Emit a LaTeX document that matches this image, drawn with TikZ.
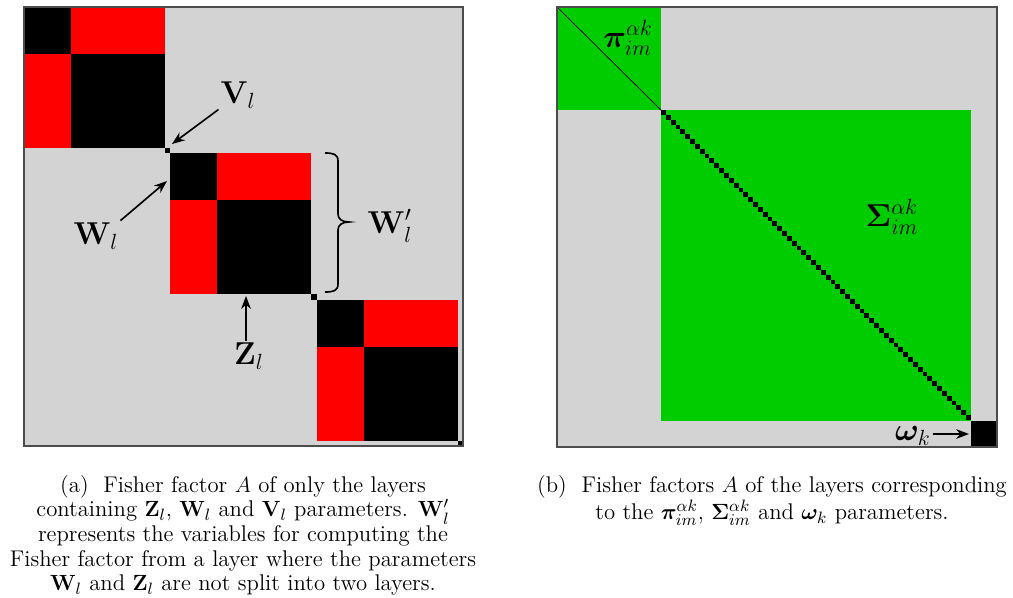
\documentclass[tikz,border=0pt]{standalone}
\usepackage{amsmath,amssymb}
\usepackage{bm}
\usetikzlibrary{arrows.meta}
\definecolor{fishgray}{RGB}{211,211,211}
\definecolor{fishred}{RGB}{255,0,0}
\definecolor{fishgreen}{RGB}{0,204,0}

\begin{document}
\begin{tikzpicture}[
    x=0.0192cm, y=-0.0192cm,
    >=Stealth,
    frame/.style = {draw=black!70, line width=0.6pt},
    lbl/.style   = {font=\LARGE, inner sep=1pt},
    captxt/.style = {font={\fontsize{12.4}{13.4}\selectfont}, align=center, inner sep=0pt, anchor=north},
    pt/.style    = {->, line width=0.9pt},
    brc/.style   = {line width=0.9pt},
    every node/.style = {inner sep=2pt},
  ]
  \useasboundingbox (0,0) rectangle (1013,597);
  % (a) block-diagonal factor
  \fill[fishgray] (24,7) rectangle (463,446);
  \begin{scope}[shift={(24,7)}]
    \foreach \k in {0,1,2}{
      \pgfmathsetmacro\o{\k*146.33}
      \fill[black]   (\o,\o)       rectangle ++(47,47);
      \fill[fishred] (\o+47,\o)    rectangle ++(94,47);
      \fill[fishred] (\o,\o+47)    rectangle ++(47,94);
      \fill[black]   (\o+47,\o+47) rectangle ++(94,94);
      \fill[black]   (\o+141,\o+141) rectangle ++(5.33,5.33);
    }
  \end{scope}
  \draw[frame] (24,7) rectangle (463,446);
  % labels of (a)
  \node[lbl] (vl)  at (238,95)  {$\mathbf{V}_l$};
  \node[lbl] (wl)  at (96,236)  {$\mathbf{W}_l$};
  \node[lbl] (zl)  at (249,356) {$\mathbf{Z}_l$};
  \node[lbl] (wpl) at (390,226) {$\mathbf{W}'_l$};
  \coordinate (vtip) at (172,144);
  \coordinate (wtip) at (167,181);
  \coordinate (ztip) at (246,296);
  \coordinate (btop) at (325,153);
  \draw[pt] (vl) -- (vtip);
  \draw[pt] (wl.north east) -- (wtip);
  \draw[pt] (zl.north -| ztip) -- (ztip);
  % brace next to the middle block
  \draw[brc] (btop) .. controls +(8,0) and +(0,-7) .. ++(13,8)
    -- ++(0,53) .. controls +(0,5) and +(-7,0) .. ++(11,8)
    .. controls +(-7,0) and +(0,-5) .. ++(-11,8)
    -- ++(0,54) .. controls +(0,7) and +(8,0) .. ++(-13,8);
  % (b) green blocks with diagonal
  \fill[fishgray]  (557,7) rectangle (997,447);
  \fill[fishgreen] (557,7) rectangle (661,110);
  \fill[fishgreen] (661,110) rectangle (971,421);
  \draw[black, line width=0.4pt] (557,7) -- (661,110);
  \foreach \i in {0,...,63}{
    \fill[black] ({661+\i*4.844},{110+\i*4.844}) rectangle ++(4.844,4.844);
  }
  \fill[black] (971,421) rectangle (997,447);
  \draw[frame] (557,7) rectangle (997,447);
  % labels of (b)
  \node[lbl] (pil)  at (628,38)  {$\bm{\pi}^{\alpha k}_{im}$};
  \node[lbl] (sigl) at (892,217) {$\bm{\Sigma}^{\alpha k}_{im}$};
  \node[lbl] (omk)  at (913,436) {$\bm{\omega}_k$};
  \coordinate (omtip) at (969,434);
  \draw[pt] (omk.east |- omtip) -- (omtip);
  % captions
  \node[captxt] (capa) at (243,475) {(a)\hspace{0.65em}Fisher factor $A$ of only the layers\\
    containing $\mathbf{Z}_l$, $\mathbf{W}_l$ and $\mathbf{V}_l$ parameters. $\mathbf{W}'_l$\\
    represents the variables for computing the\\
    Fisher factor from a layer where the parameters\\
    $\mathbf{W}_l$ and $\mathbf{Z}_l$ are not split into two layers.};
  \node[captxt] (capb) at (772,475) {(b)\hspace{0.65em}Fisher factors $A$ of the layers corresponding\\
    to the $\bm{\pi}^{\alpha k}_{im}$, $\bm{\Sigma}^{\alpha k}_{im}$ and $\bm{\omega}_k$ parameters.};
\end{tikzpicture}
\end{document}
